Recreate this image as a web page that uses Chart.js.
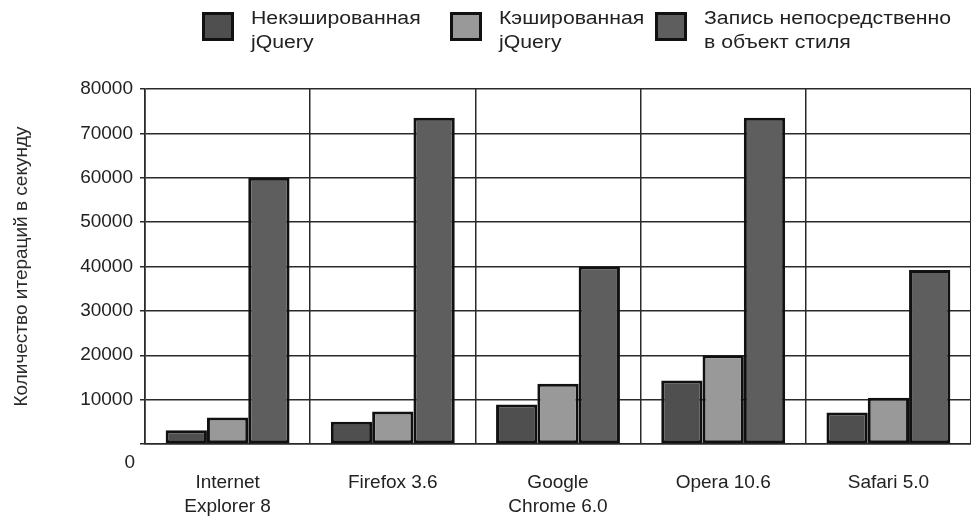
<!DOCTYPE html>
<html><head><meta charset="utf-8">
<script src="https://cdn.jsdelivr.net/npm/chart.js@4/dist/chart.umd.min.js"></script>
<style>
html,body{margin:0;padding:0;background:#fff;}
#wrap{position:relative;width:971px;height:519px;}
#legend{position:absolute;top:0;left:0;width:971px;height:80px;font-family:"Liberation Sans",Arial,sans-serif;font-size:18px;color:#222;}
.li{position:absolute;top:12px;display:flex;align-items:flex-start;}
.box{width:26px;height:23px;border:3px solid #111;}
.lt{margin-left:17px;line-height:24px;margin-top:-6px;transform:scaleX(1.18);transform-origin:left top;white-space:nowrap;}
</style></head>
<body><div id="wrap"><canvas id="c" width="971" height="519"></canvas><div id="legend"></div></div>
<script>
const categories = [["Internet","Explorer 8"],["Firefox 3.6"],["Google","Chrome 6.0"],["Opera 10.6"],["Safari 5.0"]];
const seriesNames = [["Некэшированная","jQuery"],["Кэшированная","jQuery"],["Запись непосредственно","в объект стиля"]];
const uncached = [3100, 5000, 8900, 14300, 7100];
const cached = [6000, 7300, 13600, 20000, 10400];
const direct = [60000, 73500, 40000, 73500, 39200];
const yTicks = [0,10000,20000,30000,40000,50000,60000,70000,80000];
const colors = ["#4f4f4f","#999999","#5e5e5e"];
const legendX = [202, 450, 655];

const FONT = "'Liberation Sans', Arial, sans-serif";
const zeroPlugin = {
  id:'zeroLabel',
  afterDraw(chart){
    const y = chart.scales.y, ctx = chart.ctx;
    ctx.save();
    ctx.font = "19px " + FONT;
    ctx.fillStyle = "#222";
    ctx.textAlign = "right";
    ctx.textBaseline = "middle";
    ctx.fillText("0", 135, y.getPixelForValue(0) + 19);
    ctx.restore();
  }
};
const series = [uncached, cached, direct];
const chart = new Chart(document.getElementById('c'), {
  type:'bar',
  data:{
    labels: categories,
    datasets: series.map((d,i)=>({label: seriesNames[i].join(' '), data:d, backgroundColor: colors[i], borderColor:'#111', borderWidth:3, borderSkipped:false}))
  },
  options:{
    responsive:false, animation:false,
    layout:{padding:{top:89,right:0,left:0,bottom:0}},
    plugins:{legend:{display:false}, tooltip:{enabled:false}},
    datasets:{bar:{categoryPercentage:0.75, barPercentage:1}},
    scales:{
      x:{
        grid:{color:'#2a2a2a', lineWidth:1.5, offset:true, drawTicks:false},
        border:{color:'#2a2a2a', width:1.6},
        ticks:{font:{family:FONT,size:19, lineHeight:1.3}, color:'#222', padding:26, maxRotation:0},
        afterFit(s){ s.height = 75; }
      },
      y:{
        min:0, max:80000,
        afterBuildTicks(s){ s.ticks = yTicks.map(v=>({value:v})); },
        grid:{color:'#2a2a2a', lineWidth:1.5, tickLength:5},
        border:{color:'#2a2a2a', width:1.6},
        ticks:{font:{family:FONT,size:19}, color:'#222', padding:7, callback:v=> v===0 ? '' : String(v)},
        title:{display:true, text:'Количество итераций в секунду', font:{family:FONT,size:19}, color:'#2a2a2a', padding:{top:10,bottom:0}},
        afterFit(s){ s.width = 145; }
      }
    }
  },
  plugins:[zeroPlugin]
});
const lg = document.getElementById('legend');
seriesNames.forEach((n,i)=>{
  const d = document.createElement('div'); d.className='li'; d.style.left = legendX[i]+'px';
  const b = document.createElement('div'); b.className='box'; b.style.background = chart.data.datasets[i].backgroundColor;
  const t = document.createElement('div'); t.className='lt'; t.innerHTML = n.join('<br>');
  d.appendChild(b); d.appendChild(t); lg.appendChild(d);
});
</script></body></html>
